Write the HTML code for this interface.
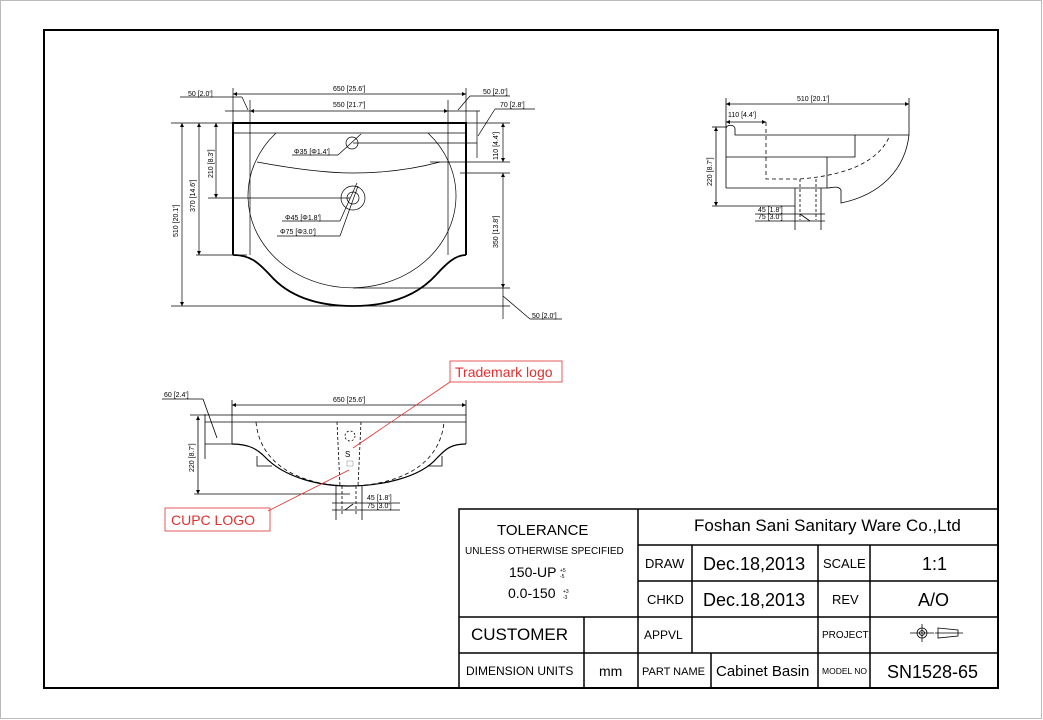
<!DOCTYPE html>
<html><head><meta charset="utf-8"><style>
html,body{margin:0;padding:0;background:#fff}
svg{display:block}
text{font-family:"Liberation Sans",sans-serif;fill:#000}
.d{font-size:7px}
.dm{marker-start:url(#a);marker-end:url(#a)}
</style></head><body>
<svg width="1043" height="720" viewBox="0 0 1043 720" xmlns="http://www.w3.org/2000/svg">
<defs><marker id="a" viewBox="0 0 10 10" refX="10" refY="5" markerWidth="7" markerHeight="4" orient="auto-start-reverse" markerUnits="userSpaceOnUse"><path d="M0,0 L10,5 L0,10 Z" fill="#000"/></marker></defs>
<rect x="0.5" y="0.5" width="1041" height="718" fill="none" stroke="#bbb" stroke-width="1"/>
<rect x="44" y="30" width="954" height="658" fill="none" stroke="#000" stroke-width="2"/>

<!-- TOP VIEW -->
<g fill="none" stroke="#000" stroke-width="0.7">
<path d="M233,255 L233,123 L466,123 L466,255" stroke-width="2"/>
<path d="M233,255 C250,255 258,262 270,275 C290,298 320,306 353,306 C386,306 415,298 436,275 C446,264 455,255 466,255" stroke-width="1.8"/>
<line x1="233" y1="133" x2="466" y2="133"/>
<path d="M276,133 A104,92 0 1,0 428,133"/>
<path d="M257,162 C300,170 330,173 353,173 C380,173 410,170 440,162"/>
<circle cx="352" cy="143" r="6"/>
<circle cx="353" cy="198" r="12"/>
<circle cx="353" cy="198" r="6"/>
<line x1="233" y1="88" x2="233" y2="123"/><line x1="466" y1="88" x2="466" y2="123"/>
<line class="dm" x1="233" y1="94" x2="466" y2="94"/>
<line x1="225" y1="111" x2="250" y2="111"/><line x1="448" y1="111" x2="480" y2="111"/>
<line class="dm" x1="250" y1="111" x2="448" y2="111"/>
<line x1="250" y1="100" x2="250" y2="255"/><line x1="448" y1="100" x2="448" y2="255"/>
<line x1="180" y1="97" x2="242" y2="97"/><line x1="242" y1="97" x2="248" y2="110"/>
<line x1="470" y1="96" x2="510" y2="96"/><line x1="470" y1="96" x2="458" y2="110"/>
<line x1="495" y1="109" x2="535" y2="109"/><line x1="495" y1="109" x2="478" y2="136"/>
<line x1="477" y1="111" x2="477" y2="158"/>
<line x1="171" y1="123" x2="510" y2="123"/>
<line x1="171" y1="306" x2="510" y2="306"/>
<line class="dm" x1="182" y1="123" x2="182" y2="306"/>
<line class="dm" x1="199" y1="123" x2="199" y2="255"/><line x1="196" y1="255" x2="247" y2="255"/>
<line class="dm" x1="216" y1="123" x2="216" y2="198"/><line x1="208" y1="198" x2="350" y2="198"/>
<line x1="353" y1="143" x2="477" y2="143"/>
<line class="dm" x1="503" y1="123" x2="503" y2="162"/><line x1="430" y1="162" x2="510" y2="162"/>
<line x1="460" y1="173" x2="510" y2="173"/><line class="dm" x1="503" y1="173" x2="503" y2="288"/>
<line x1="353" y1="288" x2="510" y2="288"/><line x1="503" y1="288" x2="503" y2="319"/>
<line x1="503" y1="296" x2="530" y2="319"/><line x1="530" y1="319" x2="562" y2="319"/>
<line x1="292" y1="155" x2="338" y2="155"/><line x1="338" y1="155" x2="361" y2="134"/>
<line x1="282" y1="221" x2="340" y2="221"/><line x1="340" y1="221" x2="357" y2="183"/>
<line x1="277" y1="236" x2="340" y2="236"/><line x1="340" y1="236" x2="358" y2="186"/>
</g>
<g class="d">
<text x="188" y="96" class="d">50 [2.0']</text>
<text x="333" y="91" class="d">650 [25.6']</text>
<text x="333" y="107" class="d">550 [21.7']</text>
<text x="483" y="94" class="d">50 [2.0']</text>
<text x="500" y="107" class="d">70 [2.8']</text>
<text x="294" y="154" class="d">Φ35 [Φ1.4']</text>
<text x="285" y="220" class="d">Φ45 [Φ1.8']</text>
<text x="280" y="234" class="d">Φ75 [Φ3.0']</text>
<text x="532" y="318" class="d">50 [2.0']</text>
<text class="d" transform="translate(178,237) rotate(-90)">510 [20.1']</text>
<text class="d" transform="translate(195,212) rotate(-90)">370 [14.6']</text>
<text class="d" transform="translate(213,178) rotate(-90)">210 [8.3']</text>
<text class="d" transform="translate(498,160) rotate(-90)">110 [4.4']</text>
<text class="d" transform="translate(498,248) rotate(-90)">350 [13.8']</text>
</g>

<!-- SIDE VIEW -->
<g fill="none" stroke="#000" stroke-width="0.8">
<path d="M726,188 L726,129 C726,124 735,124 735,129 L735,135 L909,135 C905,170 880,195 841,203 L841,190 C838,185 832,188 827,188 L726,188"/>
<path d="M726,157 L855,157 L855,135"/>
<line x1="827" y1="157" x2="827" y2="188"/>
<line x1="795" y1="188" x2="795" y2="230"/><line x1="821" y1="188" x2="821" y2="230"/>
<path d="M766,122 L766,179 L800,179 C850,175 880,160 890,135" stroke-dasharray="4,3"/>
<line x1="800" y1="179" x2="800" y2="220" stroke-dasharray="3,2"/><line x1="816" y1="179" x2="816" y2="220" stroke-dasharray="3,2"/>
<line x1="726" y1="98" x2="726" y2="128"/><line x1="909" y1="98" x2="909" y2="135"/>
<line class="dm" x1="726" y1="104" x2="909" y2="104"/>
<line class="dm" x1="726" y1="122" x2="766" y2="122"/>
<line class="dm" x1="716" y1="127" x2="716" y2="206"/><line x1="712" y1="127" x2="726" y2="127"/>
<line x1="712" y1="206" x2="795" y2="206"/>
<line x1="755" y1="214" x2="825" y2="214"/><line x1="755" y1="221" x2="825" y2="221"/>
<line x1="800" y1="214" x2="810" y2="221"/>
</g>
<text class="d" x="797" y="101">510 [20.1']</text>
<text class="d" x="728" y="117">110 [4.4']</text>
<text class="d" transform="translate(712,186) rotate(-90)">220 [8.7']</text>
<text class="d" x="758" y="212">45 [1.8']</text>
<text class="d" x="758" y="219">75 [3.0']</text>

<!-- FRONT VIEW -->
<g fill="none" stroke="#000" stroke-width="0.8">
<path d="M232,444 L232,415 L466,415 L466,444"/>
<line x1="205" y1="422" x2="466" y2="422"/>
<path d="M232,444 C250,444 258,450 265,457 C285,478 320,486 349,486 C380,486 420,478 437,458 C445,450 450,444 466,444" stroke-width="1.2"/>
<path d="M257,456 L257,466 L272,466"/><path d="M442,456 L442,466 L428,466"/>
<path d="M256,422 C260,465 300,485 349,486 C400,485 440,465 444,422" stroke-dasharray="4,3"/>
<line x1="337" y1="422" x2="340" y2="486" stroke-dasharray="3,2"/><line x1="361" y1="422" x2="358" y2="486" stroke-dasharray="3,2"/>
<circle cx="350" cy="436" r="5" stroke-dasharray="2,2"/>
<line x1="336" y1="486" x2="336" y2="520"/><line x1="362" y1="486" x2="362" y2="520"/>
<line x1="342" y1="486" x2="342" y2="515" stroke-dasharray="3,2"/><line x1="356" y1="486" x2="356" y2="515" stroke-dasharray="3,2"/>
<line x1="232" y1="400" x2="232" y2="415"/><line x1="466" y1="400" x2="466" y2="415"/>
<line class="dm" x1="232" y1="405" x2="466" y2="405"/>
<line x1="190" y1="415" x2="232" y2="415"/>
<line class="dm" x1="198" y1="416" x2="198" y2="494"/><line x1="194" y1="494" x2="350" y2="494"/>
<line x1="205" y1="414" x2="205" y2="459"/><line x1="205" y1="444" x2="232" y2="444"/>
<line x1="162" y1="399" x2="203" y2="399"/><line x1="203" y1="399" x2="217" y2="438"/>
<line x1="332" y1="503" x2="400" y2="503"/><line x1="332" y1="510" x2="400" y2="510"/>
<line x1="345" y1="510" x2="353" y2="504"/>
</g>
<text class="d" x="333" y="402">650 [25.6']</text>
<text class="d" x="164" y="397">60 [2.4']</text>
<text class="d" transform="translate(194,472) rotate(-90)">220 [8.7']</text>
<text class="d" x="367" y="500">45 [1.8']</text>
<text class="d" x="367" y="508">75 [3.0']</text>
<text x="345" y="457" font-size="8">S</text>
<rect x="347" y="461" width="6" height="5" fill="none" stroke="#888" stroke-width="0.5"/>

<!-- Red labels -->
<g stroke="#e03030" fill="none" stroke-width="0.8">
<line x1="450" y1="382" x2="353" y2="448"/>
<line x1="268" y1="511" x2="349" y2="470"/>
<rect x="450" y="361" width="112" height="21"/>
<rect x="165" y="508" width="105" height="23"/>
</g>
<text x="455" y="377" font-size="14" style="fill:#e03030">Trademark logo</text>
<text x="171" y="525" font-size="14" style="fill:#e03030">CUPC LOGO</text>

<!-- TITLE BLOCK -->
<g fill="none" stroke="#000" stroke-width="1.5">
<rect x="459" y="509" width="539" height="179"/>
<line x1="638" y1="509" x2="638" y2="688"/>
<line x1="638" y1="545" x2="998" y2="545"/>
<line x1="638" y1="581" x2="998" y2="581"/>
<line x1="459" y1="617" x2="998" y2="617"/>
<line x1="459" y1="653" x2="998" y2="653"/>
<line x1="584" y1="617" x2="584" y2="688"/>
<line x1="692" y1="545" x2="692" y2="653"/>
<line x1="711" y1="653" x2="711" y2="688"/>
<line x1="818" y1="545" x2="818" y2="688"/>
<line x1="870" y1="545" x2="870" y2="688"/>
</g>
<text x="497" y="535" font-size="15">TOLERANCE</text>
<text x="465" y="554" font-size="10">UNLESS OTHERWISE SPECIFIED</text>
<text x="509" y="577" font-size="14">150-UP</text><text x="560" y="572" font-size="5">+5</text><text x="560" y="578" font-size="5">-5</text>
<text x="508" y="598" font-size="14">0.0-150</text><text x="563" y="593" font-size="5">+3</text><text x="563" y="599" font-size="5">-3</text>
<text x="694" y="531" font-size="17">Foshan Sani Sanitary Ware Co.,Ltd</text>
<text x="645" y="568" font-size="13">DRAW</text>
<text x="703" y="570" font-size="18">Dec.18,2013</text>
<text x="823" y="568" font-size="13">SCALE</text>
<text x="922" y="570" font-size="18">1:1</text>
<text x="647" y="604" font-size="13">CHKD</text>
<text x="703" y="606" font-size="18">Dec.18,2013</text>
<text x="832" y="604" font-size="13">REV</text>
<text x="918" y="606" font-size="18">A/O</text>
<text x="471" y="640" font-size="17">CUSTOMER</text>
<text x="644" y="639" font-size="12">APPVL</text>
<text x="822" y="638" font-size="10">PROJECT</text>
<g fill="none" stroke="#000" stroke-width="0.8">
<circle cx="922" cy="633" r="5"/><circle cx="922" cy="633" r="2.5"/>
<line x1="910" y1="633" x2="934" y2="633"/><line x1="922" y1="624" x2="922" y2="642"/>
<path d="M938,628 L958,630 L958,636 L938,638 Z"/><line x1="935" y1="633" x2="963" y2="633"/>
</g>
<text x="466" y="675" font-size="12">DIMENSION UNITS</text>
<text x="599" y="676" font-size="14">mm</text>
<text x="642" y="675" font-size="11">PART NAME</text>
<text x="716" y="676" font-size="15">Cabinet Basin</text>
<text x="822" y="674" font-size="8.5">MODEL NO</text>
<text x="887" y="678" font-size="18">SN1528-65</text>
</svg>
</body></html>
